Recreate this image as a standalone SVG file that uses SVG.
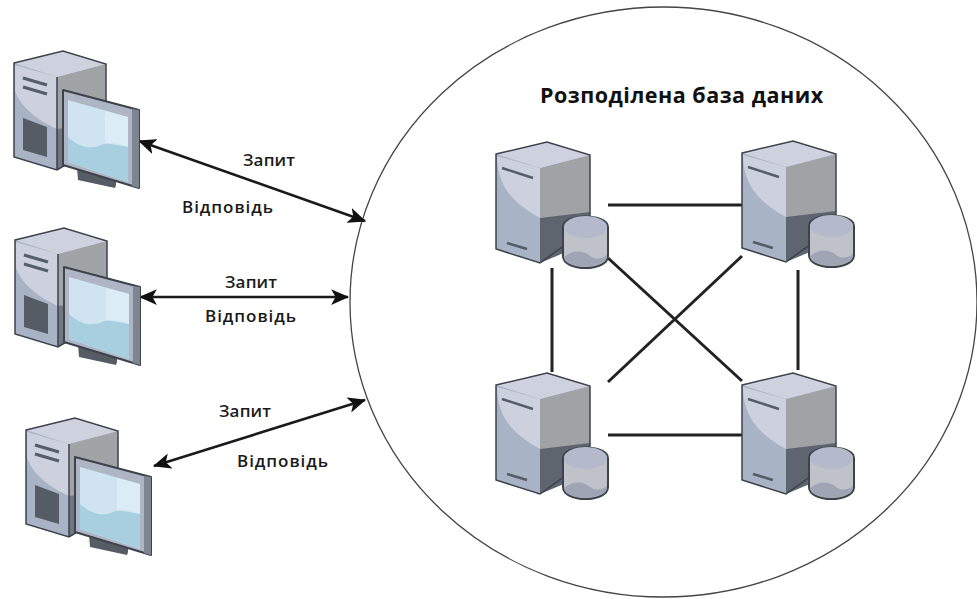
<svg xmlns="http://www.w3.org/2000/svg" width="977" height="599" viewBox="0 0 977 599">
<style>
.t{font-family:"Open Sans","Liberation Sans",sans-serif;font-weight:600;font-size:17px;fill:#1a1a1a}
.title{font-family:"Open Sans","Liberation Sans",sans-serif;font-weight:700;font-size:21.500px;letter-spacing:.5px;fill:#111}
.k{fill:none;stroke:#222;stroke-width:3}
.a{fill:none;stroke:#1a1a1a;stroke-width:2.600;marker-start:url(#h);marker-end:url(#h)}
.o{stroke:#3c424c;stroke-width:2;stroke-linejoin:round}
</style>
<defs>
<filter id="b" x="-5%" y="-5%" width="110%" height="110%"><feGaussianBlur stdDeviation="0.5"/></filter>
<filter id="s" x="-2%" y="-2%" width="104%" height="104%"><feGaussianBlur stdDeviation="0.35"/></filter>
<marker id="h" viewBox="0 0 16 14" refX="15" refY="7" markerWidth="18" markerHeight="16" markerUnits="userSpaceOnUse" orient="auto-start-reverse"><path d="M0 0L16 7L0 14L4 7Z" fill="#111"/></marker>
<g id="client" filter="url(#b)">
<path d="M0 12L49 0L92 13V92L43 119L0 106Z" fill="#a9b3c6"/>
<path d="M43 26L92 13V78L43 78Z" fill="#a0a4a6"/>
<path d="M0 12L49 0L92 13L43 26Z" fill="#ced2df"/>
<path d="M1 40C8 58 25 70 43 78V26L1 14Z" fill="#ccd1dd"/>
<path d="M43 78L92 72V92L43 119Z" fill="#70777f"/>
<path d="M0 12L49 0L92 13V90L43 119L0 106Z M43 26V119" fill="none" stroke="#3c424c" stroke-width="1.500"/>
<path d="M9 27L33 34M9 36L33 43" stroke="#555d69" stroke-width="3"/>
<path d="M9 67L33 76V106L9 99Z" fill="#555b63"/>
<path d="M63 116L102 128V134L101 137L64 129Z" fill="#555b63"/>
<path d="M49 39L125 59V137L49 114Z" fill="#aeb5c4" class="o"/>
<path d="M118 58L125 59V137L118 135Z" fill="#7d8590"/>
<path d="M54 49L114 66V131L54 111Z" fill="#cfe4f0"/>
<path d="M54 86C65 96 75 98 85 95C95 90 105 92 114 96V131L54 111Z" fill="#a7cfe0"/>
<path d="M91 60L114 66V96L91 92Z" fill="#e0f0f9" opacity=".7"/>
</g>
<g id="server" filter="url(#b)">
<path d="M0 12L51 0L94 13V85L44 121L0 107Z" fill="#a9b3c6"/>
<path d="M44 26L94 13V72L44 76Z" fill="#9fa3a6"/>
<path d="M0 12L51 0L94 13L44 26Z" fill="#ced2df"/>
<path d="M1 14C1 50 25 65 44 76V26Z" fill="#ccd1dd"/>
<path d="M44 76L94 70V100L44 121Z" fill="#5e656e"/>
<path d="M0 12L51 0L94 13V85L44 121L0 107Z" fill="none" stroke="#3c424c" stroke-width="1.500"/>
<path d="M6 26L37 36M11 101L31 107" stroke="#555d69" stroke-width="2.500"/>
<path d="M67 85C67 71 112 71 112 85V114C112 130 67 130 67 114Z" fill="#bfc2c9" class="o"/>
<ellipse cx="89.500" cy="85" rx="21.500" ry="11" fill="#b4b9cc"/>
<path d="M68 115C78 107 88 109 94 114C100 118 106 117 111 113V114C111 128 68 128 68 115Z" fill="#a0a5b5"/>
</g>
</defs>
<ellipse id="cloud" cx="663.500" cy="302" rx="313.500" ry="295" fill="#fff" stroke="#444" stroke-width="1.300" filter="url(#s)"/>
<g id="connectors">
<path class="k" d="M608 205H742M608 435H742M552 268V372M798 270V370M608 258L742 381M608 382L742 256"/>
<path class="a" d="M139 141L365 221"/>
<path class="a" d="M140 297H348"/>
<path class="a" d="M154 466L365 400"/>
</g>
<g id="client-1"><use href="#client" x="14" y="51"/></g>
<g id="client-2"><use href="#client" x="15" y="228"/></g>
<g id="client-3"><use href="#client" x="26" y="418"/></g>
<g id="server-1"><use href="#server" x="496" y="142"/></g>
<g id="server-2"><use href="#server" x="742" y="141"/></g>
<g id="server-3"><use href="#server" x="496" y="373"/></g>
<g id="server-4"><use href="#server" x="742" y="373"/></g>
<g id="labels">
<text class="title" x="540" y="103">Розподілена база даних</text>
<text class="t" x="243" y="166" textLength="52">Запит</text>
<text class="t" x="182" y="213" textLength="91">Відповідь</text>
<text class="t" x="225" y="288" textLength="52">Запит</text>
<text class="t" x="205" y="322" textLength="91">Відповідь</text>
<text class="t" x="219" y="417" textLength="52">Запит</text>
<text class="t" x="237" y="467" textLength="91">Відповідь</text>
</g>
</svg>
